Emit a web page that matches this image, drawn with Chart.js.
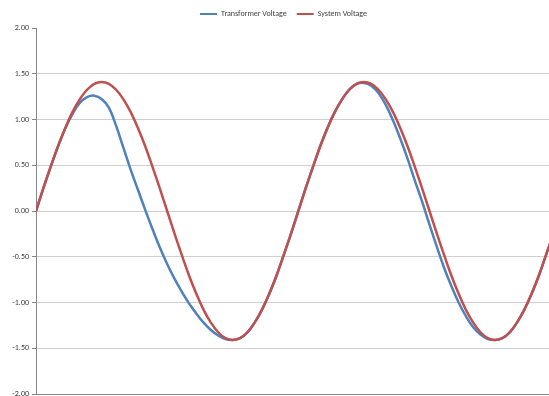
<!DOCTYPE html>
<html>
<head>
<meta charset="utf-8">
<script src="https://cdn.jsdelivr.net/npm/chart.js@4"></script>
<style>
  html, body { margin: 0; padding: 0; background: #ffffff; }
  #wrap { width: 549px; height: 396px; position: relative; }
</style>
</head>
<body>
<div id="wrap"><canvas id="c" width="549" height="396"></canvas></div>
<script>
// Phase angle in degrees (sampled every 10°)
const angles = [
  0, 10, 20, 30, 40, 50, 60, 70, 80, 90,
  100, 110, 120, 130, 140, 150, 160, 170, 180, 190,
  200, 210, 220, 230, 240, 250, 260, 270, 280, 290,
  300, 310, 320, 330, 340, 350, 360, 370, 380, 390,
  400, 410, 420, 430, 440, 450, 460, 470, 480, 490,
  500, 510, 520, 530, 540, 550, 560, 570, 580, 590,
  600, 610, 620, 630, 640, 650, 660, 670, 680, 690,
  700, 710
];

const transformerVoltage = [
  0.00, 0.25, 0.48, 0.70, 0.90, 1.06, 1.18, 1.245, 1.26, 1.225,
  1.13, 0.93, 0.69, 0.45, 0.23, 0.01, -0.20, -0.40, -0.58, -0.74,
  -0.88, -1.01, -1.12, -1.22, -1.30, -1.36, -1.40, -1.41, -1.39, -1.33,
  -1.22, -1.08, -0.91, -0.71, -0.48, -0.25, 0.00, 0.25, 0.48, 0.71,
  0.91, 1.08, 1.22, 1.33, 1.39, 1.40, 1.37, 1.29, 1.16, 0.99,
  0.79, 0.57, 0.33, 0.10, -0.15, -0.39, -0.62, -0.82, -1.00, -1.15,
  -1.27, -1.35, -1.40, -1.41, -1.39, -1.33, -1.22, -1.08, -0.91, -0.71,
  -0.48, -0.25
];

const systemVoltage = [
  0.00, 0.245, 0.48, 0.705, 0.905, 1.08, 1.22, 1.325, 1.39, 1.41,
  1.39, 1.325, 1.22, 1.08, 0.905, 0.705, 0.48, 0.245, 0.00, -0.245,
  -0.48, -0.705, -0.905, -1.08, -1.22, -1.325, -1.39, -1.41, -1.39, -1.325,
  -1.22, -1.08, -0.905, -0.705, -0.48, -0.245, 0.00, 0.245, 0.48, 0.705,
  0.905, 1.08, 1.22, 1.325, 1.39, 1.41, 1.39, 1.325, 1.22, 1.08,
  0.905, 0.705, 0.48, 0.245, 0.00, -0.245, -0.48, -0.705, -0.905, -1.08,
  -1.22, -1.325, -1.39, -1.41, -1.39, -1.325, -1.22, -1.08, -0.905, -0.705,
  -0.48, -0.245
];

const seriesNames = ['Transformer Voltage', 'System Voltage'];
const yTicks = [-2, -1.5, -1, -0.5, 0, 0.5, 1, 1.5, 2];

const toPoints = vals => vals.map((v, i) => ({ x: angles[i], y: v }));
const FONT = 'Carlito, Lato, "Liberation Sans", sans-serif';

// Nudge the legend block a little to the right of the canvas centre
const legendShift = {
  id: 'legendShift',
  afterLayout(chart) {
    const lg = chart.legend;
    if (lg) { lg.left += 9; lg.right += 9; }
  }
};

new Chart(document.getElementById('c'), {
  type: 'line',
  data: {
    datasets: [
      {
        label: seriesNames[0],
        data: toPoints(transformerVoltage),
        borderColor: '#4F81BD',
        backgroundColor: '#4F81BD',
        borderWidth: 2.5,
        pointRadius: 0,
        tension: 0.4,
        order: 1
      },
      {
        label: seriesNames[1],
        data: toPoints(systemVoltage),
        borderColor: '#C0504D',
        backgroundColor: '#C0504D',
        borderWidth: 2.5,
        pointRadius: 0,
        tension: 0.4,
        order: 0
      }
    ]
  },
  plugins: [legendShift],
  options: {
    responsive: false,
    animation: false,
    layout: { padding: 0 },
    plugins: {
      tooltip: { enabled: false },
      legend: {
        position: 'top',
        labels: {
          font: { family: FONT, size: 8 },
          color: '#404040',
          boxWidth: 17,
          boxHeight: 2,
          padding: 10,
          sort: (a, b) => a.datasetIndex - b.datasetIndex,
          generateLabels: chart => {
            const items = Chart.defaults.plugins.legend.labels.generateLabels(chart);
            items.forEach(it => { it.lineWidth = 0; });
            return items;
          }
        }
      }
    },
    scales: {
      x: {
        type: 'linear',
        min: 0,
        max: 704,
        grid: { display: false },
        ticks: { display: false },
        border: { display: true, color: '#868686', width: 1 },
        afterFit: s => { s.height = 2; s.paddingLeft = 0; s.paddingRight = 0; }
      },
      y: {
        min: -2,
        max: 2,
        afterBuildTicks: s => { s.ticks = yTicks.map(v => ({ value: v })); },
        ticks: {
          font: { family: FONT, size: 8 },
          color: '#404040',
          padding: 3,
          callback: v => Number(v).toFixed(2)
        },
        grid: {
          color: ctx => (ctx.tick && ctx.tick.value === 2) ? 'rgba(0,0,0,0)' : '#d0d0d0',
          tickColor: '#868686',
          tickLength: 4,
          lineWidth: 1
        },
        border: { display: true, color: '#868686', width: 1 },
        afterFit: s => { s.width = 36; s.paddingTop = 0; s.paddingBottom = 0; }
      }
    }
  }
});
</script>
</body>
</html>
